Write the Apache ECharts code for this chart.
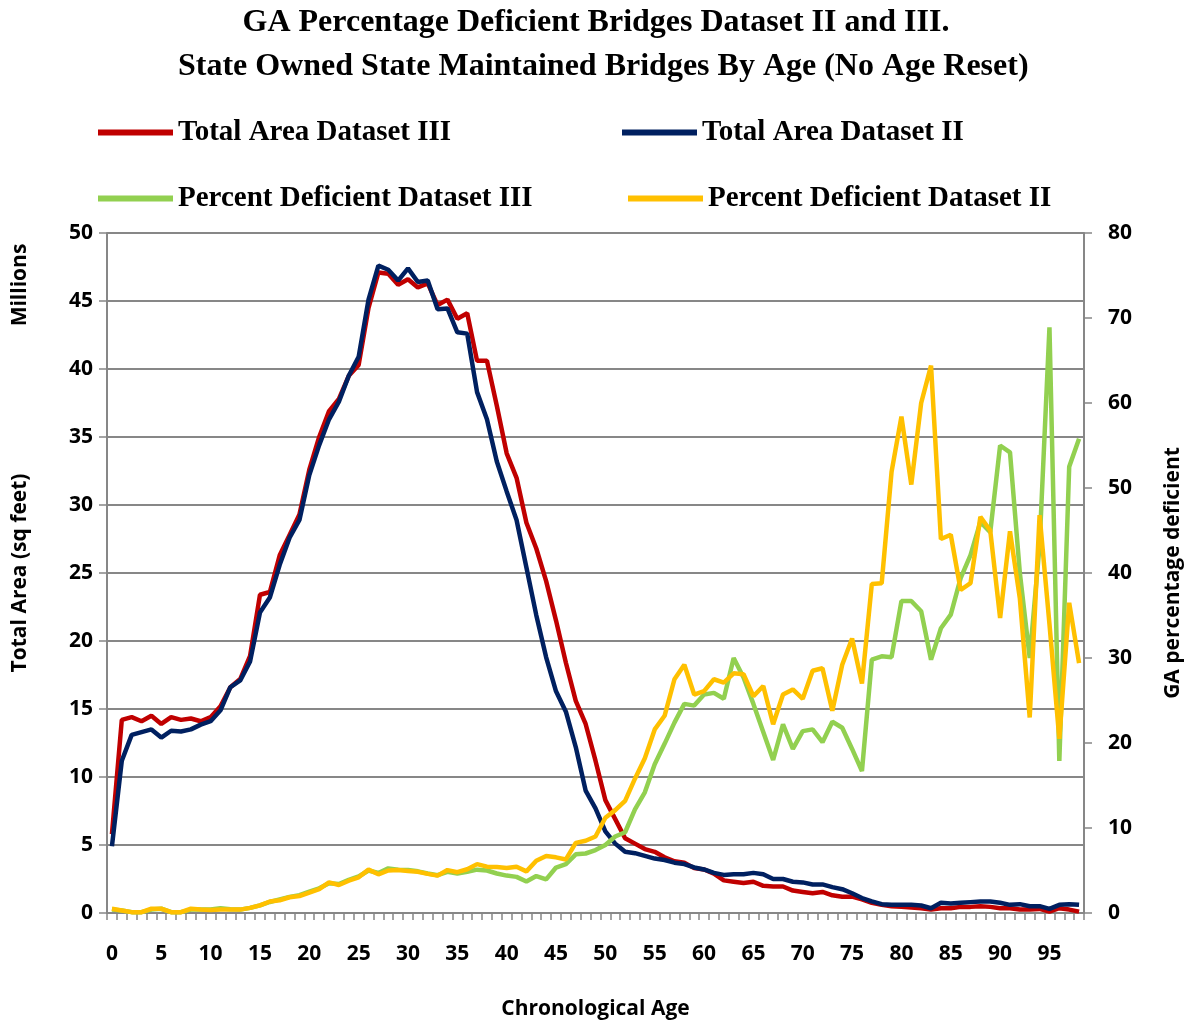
<!DOCTYPE html>
<html>
<head>
<meta charset="utf-8">
<script src="https://cdn.jsdelivr.net/npm/echarts@6/dist/echarts.min.js"></script>
<style>
html,body{margin:0;padding:0;background:#fff;}
#chart{width:1192px;height:1025px;}
</style>
</head>
<body>
<div id="chart"></div>
<script>
// Ages 0..98
var ages = [];
for (var a = 0; a <= 98; a++) ages.push(String(a));

// Total Area Dataset III (millions sq ft)
var areaIII = [5.8,14.2,14.4,14.1,14.5,13.9,14.4,14.2,14.3,14.1,
  14.4,15.2,16.6,17.2,18.9,23.4,23.6,26.3,27.8,29.3,
  32.6,35.0,36.9,37.8,39.5,40.3,44.5,47.1,47.0,46.2,
  46.6,46.0,46.3,44.7,45.1,43.7,44.1,40.6,40.6,37.3,
  33.8,32.0,28.7,26.8,24.4,21.5,18.4,15.6,13.9,11.2,
  8.3,6.9,5.5,5.1,4.7,4.5,4.1,3.8,3.7,3.3,
  3.2,2.9,2.4,2.3,2.2,2.3,2.0,1.95,1.95,1.65,
  1.55,1.45,1.55,1.3,1.2,1.2,1.0,0.75,0.6,0.5,
  0.45,0.4,0.35,0.25,0.35,0.35,0.45,0.45,0.5,0.45,
  0.35,0.35,0.25,0.25,0.3,0.1,0.35,0.25,0.1];

// Total Area Dataset II (millions sq ft)
var areaII = [4.9,11.2,13.1,13.3,13.5,12.9,13.4,13.35,13.5,13.85,
  14.1,14.9,16.6,17.1,18.5,22.1,23.2,25.6,27.6,28.9,
  32.2,34.4,36.3,37.6,39.5,40.9,45.1,47.6,47.3,46.5,
  47.4,46.4,46.5,44.4,44.45,42.7,42.6,38.3,36.3,33.2,
  31.0,28.9,25.4,21.9,18.8,16.3,14.8,12.2,9.0,7.7,
  6.0,5.1,4.5,4.4,4.2,4.0,3.9,3.7,3.6,3.35,
  3.2,2.95,2.8,2.85,2.85,2.95,2.85,2.5,2.5,2.3,
  2.25,2.1,2.1,1.9,1.75,1.45,1.1,0.85,0.65,0.6,
  0.6,0.6,0.55,0.35,0.75,0.7,0.75,0.8,0.85,0.85,
  0.75,0.6,0.65,0.5,0.5,0.3,0.6,0.65,0.6];

// Percent Deficient Dataset III
var pctIII = [0.4,0.3,0.1,0.1,0.4,0.5,0.1,0.1,0.4,0.4,
  0.4,0.55,0.45,0.4,0.6,0.9,1.3,1.6,1.9,2.1,
  2.5,2.9,3.5,3.4,3.9,4.3,5.0,4.7,5.25,5.1,
  5.05,4.9,4.65,4.45,4.85,4.65,4.85,5.1,5.0,4.65,
  4.4,4.25,3.7,4.35,3.95,5.35,5.75,6.9,7.0,7.4,
  8.0,9.0,9.5,12.2,14.2,17.5,19.9,22.4,24.6,24.4,
  25.7,25.9,25.2,30.0,27.7,24.6,21.3,18.0,22.2,19.3,
  21.4,21.6,20.1,22.5,21.8,19.3,16.7,29.8,30.2,30.1,
  36.7,36.7,35.5,29.8,33.5,35.1,39.4,42.1,46.0,44.8,
  55.0,54.2,40.0,30.0,43.3,68.9,17.9,52.5,55.8];

// Percent Deficient Dataset II
var pctII = [0.5,0.3,0.1,0.1,0.5,0.5,0.1,0.1,0.5,0.4,
  0.35,0.4,0.4,0.4,0.6,0.9,1.35,1.5,1.85,2.0,
  2.4,2.8,3.6,3.3,3.8,4.2,5.1,4.55,5.0,5.05,
  4.95,4.85,4.6,4.4,5.05,4.8,5.15,5.75,5.45,5.4,
  5.3,5.45,4.9,6.15,6.7,6.55,6.3,8.25,8.5,9.0,
  11.2,12.1,13.2,15.8,18.2,21.6,23.2,27.5,29.2,25.7,
  26.1,27.5,27.1,28.2,28.1,25.5,26.7,22.2,25.7,26.3,
  25.2,28.5,28.8,23.8,29.2,32.3,27.0,38.7,38.8,51.9,
  58.4,50.4,60.0,64.4,44.0,44.5,38.0,38.8,46.6,45.0,
  34.7,44.9,37.0,23.0,46.8,34.0,20.5,36.5,29.4];

var names = ['Total Area Dataset III','Total Area Dataset II','Percent Deficient Dataset III','Percent Deficient Dataset II'];
var colors = ['#C00000','#002060','#92D050','#FFC000'];
var titleLines = ['GA Percentage Deficient Bridges Dataset II and III.','State Owned State Maintained Bridges By Age (No Age Reset)'];

var gray = '#878787';
var tickFont = {fontFamily:'Open Sans', fontWeight:'bold', fontSize:21, color:'#000'};
var legendText = {fontFamily:'Liberation Serif', fontWeight:'bold', fontSize:29, color:'#000'};
var titleText = {fontFamily:'Liberation Serif', fontWeight:'bold', fontSize:32, color:'#000'};

function mkLegend(i, left, top) {
  return {
    data:[names[i]], left:left, top:top, orient:'horizontal',
    icon:'rect', itemWidth:75, itemHeight:6, itemGap:0,
    textStyle:legendText, selectedMode:false
  };
}

var chart = echarts.init(document.getElementById('chart'), null, {renderer:'canvas'});
chart.setOption({
  animation:false,
  backgroundColor:'#fff',
  color:colors,
  title:[
    {text:titleLines[0], left:'center', top:2, textStyle:titleText},
    {text:titleLines[1], left:173, top:46, textStyle:titleText}
  ],
  legend:[
    mkLegend(0, 93, 113),
    mkLegend(1, 617, 113),
    mkLegend(2, 93, 179),
    mkLegend(3, 623, 179)
  ],
  grid:{left:107, right:106, top:233, bottom:109, containLabel:false},
  xAxis:{
    type:'category', data:ages, boundaryGap:true,
    name:'Chronological Age', nameLocation:'middle', nameGap:86,
    nameTextStyle:{fontFamily:'Open Sans', fontWeight:'bold', fontSize:21, color:'#000'},
    axisLine:{show:true, lineStyle:{color:gray, width:2}},
    axisTick:{show:true, interval:0, length:7, lineStyle:{color:gray, width:1.5}},
    axisLabel:Object.assign({interval:4, margin:31}, tickFont),
    splitLine:{show:false}
  },
  yAxis:[
    {
      type:'value', min:0, max:50, interval:5, position:'left',
      name:'Total Area (sq feet)', nameLocation:'middle', nameGap:76, nameRotate:90,
      nameTextStyle:{fontFamily:'Open Sans', fontWeight:'bold', fontSize:21, color:'#000'},
      axisLine:{show:true, lineStyle:{color:gray, width:2}},
      axisTick:{show:true, length:8, lineStyle:{color:gray, width:1.5}},
      axisLabel:Object.assign({margin:14}, tickFont),
      splitLine:{show:true, lineStyle:{color:gray, width:2}}
    },
    {
      type:'value', min:0, max:80, interval:10, position:'right', alignTicks:false,
      name:'GA percentage deficient', nameLocation:'middle', nameGap:79, nameRotate:90,
      nameTextStyle:{fontFamily:'Open Sans', fontWeight:'bold', fontSize:21, color:'#000'},
      axisLine:{show:true, lineStyle:{color:gray, width:2}},
      axisTick:{show:true, length:8, lineStyle:{color:gray, width:1.5}},
      axisLabel:Object.assign({margin:24}, tickFont),
      splitLine:{show:false}
    }
  ],
  graphic:[
    {type:'text', x:20, y:285, rotation:Math.PI/2,
     style:{text:'Millions', fontFamily:'Open Sans', fontWeight:'bold', fontSize:21, fill:'#000', align:'center', verticalAlign:'middle'}}
  ],
  series:[
    {name:names[0], type:'line', yAxisIndex:0, data:areaIII, showSymbol:false, lineStyle:{width:4.5, color:colors[0]}, itemStyle:{color:colors[0]}},
    {name:names[1], type:'line', yAxisIndex:0, data:areaII, showSymbol:false, lineStyle:{width:4.5, color:colors[1]}, itemStyle:{color:colors[1]}},
    {name:names[2], type:'line', yAxisIndex:1, data:pctIII, showSymbol:false, lineStyle:{width:4.5, color:colors[2]}, itemStyle:{color:colors[2]}},
    {name:names[3], type:'line', yAxisIndex:1, data:pctII, showSymbol:false, lineStyle:{width:4.5, color:colors[3]}, itemStyle:{color:colors[3]}}
  ]
});
</script>
</body>
</html>
